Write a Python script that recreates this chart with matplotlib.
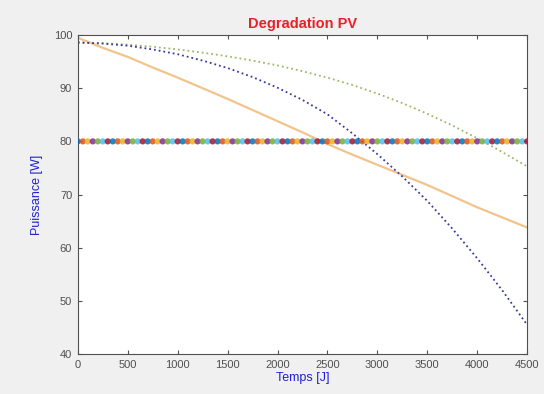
import matplotlib
matplotlib.use("Agg")
import matplotlib.pyplot as plt
import numpy as np

# time axis (days) shared by the degradation curves
t = [0, 250, 500, 750, 1000, 1250, 1500, 1750, 2000, 2250,
     2500, 2750, 3000, 3250, 3500, 3750, 4000, 4250, 4500]

p_blue = [98.6, 98.4, 98.0, 97.3, 96.4, 95.2, 93.8, 92.1, 90.1, 87.8,
          85.1, 81.5, 77.6, 73.4, 68.8, 63.6, 58.0, 52.0, 45.5]
p_green = [98.6, 98.5, 98.2, 97.8, 97.3, 96.7, 96.0, 95.2, 94.3, 93.2,
           92.0, 90.6, 89.0, 87.2, 85.2, 83.0, 80.6, 78.0, 75.3]
p_orange = [99.5, 97.6, 95.9, 93.9, 92.0, 90.0, 88.0, 85.9, 83.8, 81.7,
            79.5, 77.5, 75.6, 73.7, 71.8, 69.7, 67.6, 65.7, 63.8]

# 80 % threshold markers
t_seuil = np.arange(0, 4501, 50)
p_seuil = 80

matlab_colors = ['#0072BD', '#D95319', '#EDB120', '#7E2F8E',
                 '#77AC30', '#4DBEEE', '#A2142F']

plt.rcParams['font.family'] = ['Liberation Sans', 'DejaVu Sans']

fig = plt.figure(figsize=(5.44, 3.94), dpi=100, facecolor='#f0f0f0')
ax = fig.add_axes([0.143, 0.1015, 0.826, 0.8095])

ax.plot(t, p_orange, color='#f2c48c', linewidth=1.6, linestyle='-')
ax.plot(t, p_green, color='#9cb86a', linewidth=1.3, linestyle=':')
ax.plot(t, p_blue, color='#3a3a9a', linewidth=1.3, linestyle=':')

cols = [matlab_colors[i % 7] for i in range(len(t_seuil))]
ax.scatter(t_seuil, [p_seuil] * len(t_seuil), s=20, c=cols, alpha=0.85,
           edgecolors='none', zorder=3)

ax.set_xlim(0, 4500)
ax.set_ylim(40, 100)
ax.set_xticks(range(0, 4501, 500))
ax.set_yticks(range(40, 101, 10))
ax.tick_params(direction='in', length=3, labelsize=8, colors='#505050',
               top=True, right=True, pad=4)
for s in ax.spines.values():
    s.set_color('#505050')
    s.set_linewidth(0.8)

ax.set_title('Degradation PV', color='#e8202a', fontsize=10.5,
             fontweight='bold', pad=5)
ax.set_xlabel('Temps [J]', color='#2020d0', fontsize=9, labelpad=2)
ax.set_ylabel('Puissance [W]', color='#2020d0', fontsize=9, labelpad=8)

fig.savefig('out.png', dpi=100, facecolor=fig.get_facecolor())
